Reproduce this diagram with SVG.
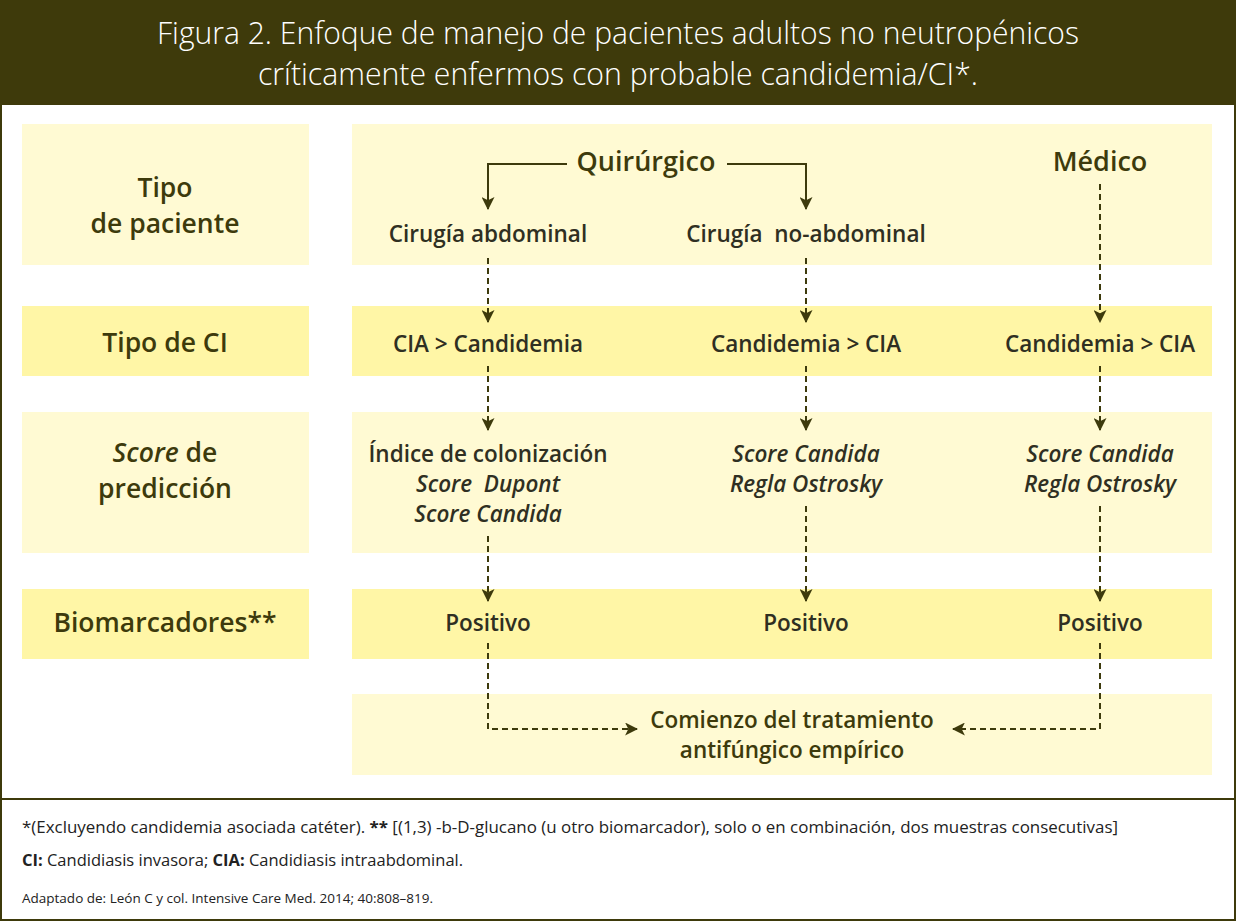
<svg xmlns="http://www.w3.org/2000/svg" width="1236" height="922" viewBox="0 0 1236 922">
<defs>
<style>
.lt{fill:#FFFAD3}
.dk{fill:#FFF6A6}
.lab{font-family:"Open Sans","Liberation Sans",sans-serif;font-weight:600;font-size:26.5px;fill:#3D3A0C;text-anchor:middle}
.big{font-family:"Open Sans","Liberation Sans",sans-serif;font-weight:600;font-size:27px;fill:#3D3A0C;text-anchor:middle}
.txt{font-family:"Open Sans","Liberation Sans",sans-serif;font-weight:600;font-size:22.5px;fill:#2F2F22;text-anchor:middle}
.olive{fill:#3D3A0C}
.it{font-style:italic}
.title{font-family:"Open Sans","Liberation Sans",sans-serif;font-weight:300;font-size:31px;fill:#FFFFFF;text-anchor:middle}
.foot{font-family:"Open Sans","Liberation Sans",sans-serif;font-size:16.5px;fill:#222}
.foots{font-family:"Open Sans","Liberation Sans",sans-serif;font-size:13.5px;fill:#222}
.sol{fill:none;stroke:#3D3A0C;stroke-width:2}
.dash{fill:none;stroke:#3D3A0C;stroke-width:2;stroke-dasharray:6 4}
</style>
<marker id="ah" viewBox="0 0 12 12" refX="11" refY="6" markerWidth="13" markerHeight="13" markerUnits="userSpaceOnUse" orient="auto">
<path d="M0,0 L12,6 L0,12 L3,6 z" fill="#3D3A0C"/>
</marker>
</defs>

<g id="header">
<rect x="0" y="0" width="1236" height="105" fill="#3E3A0B"/>
<text class="title" x="618" y="44" textLength="922" lengthAdjust="spacingAndGlyphs">Figura 2. Enfoque de manejo de pacientes adultos no neutropénicos</text>
<text class="title" x="618" y="85" textLength="720" lengthAdjust="spacingAndGlyphs">críticamente enfermos con probable candidemia/CI*.</text>
</g>
<rect id="frame" x="1" y="104" width="1234" height="816" fill="none" stroke="#3E3A0B" stroke-width="2"/>
<line x1="1" y1="799" x2="1235" y2="799" stroke="#3E3A0B" stroke-width="2"/>

<g id="row-tipo-paciente">
<rect class="lt" x="22" y="124" width="287" height="141"/>
<text class="lab" x="165" y="197">Tipo</text>
<text class="lab" x="165" y="233">de paciente</text>
</g>
<g id="row-tipo-ci">
<rect class="dk" x="22" y="306" width="287" height="70"/>
<text class="lab" x="165" y="352">Tipo de CI</text>
</g>
<g id="row-score">
<rect class="lt" x="22" y="412" width="287" height="141"/>
<text class="lab" x="165" y="462"><tspan font-style="italic">Score</tspan> de</text>
<text class="lab" x="165" y="498">predicción</text>
</g>
<g id="row-biomarcadores">
<rect class="dk" x="22" y="589" width="287" height="70"/>
<text class="lab" x="165" y="632">Biomarcadores**</text>
</g>

<g id="panel-paciente">
<rect class="lt" x="352" y="124" width="860" height="141"/>
</g>
<g id="quirurgico"><text class="big" x="646" y="171">Quirúrgico</text></g>
<g id="medico"><text class="big" x="1100" y="171">Médico</text></g>
<g id="cirugia-abdominal"><text class="txt" x="488" y="242">Cirugía abdominal</text></g>
<g id="cirugia-no-abdominal"><text class="txt" x="806" y="242" xml:space="preserve">Cirugía  no-abdominal</text></g>

<g id="panel-ci">
<rect class="dk" x="352" y="306" width="860" height="70"/>
</g>
<g id="ci-1"><text class="txt" x="488" y="352">CIA &gt; Candidemia</text></g>
<g id="ci-2"><text class="txt" x="806" y="352">Candidemia &gt; CIA</text></g>
<g id="ci-3"><text class="txt" x="1100" y="352">Candidemia &gt; CIA</text></g>

<g id="panel-score">
<rect class="lt" x="352" y="412" width="860" height="141"/>
</g>
<g id="score-1">
<text class="txt" x="488" y="462">Índice de colonización</text>
<text class="txt it" x="488" y="492" xml:space="preserve">Score  Dupont</text>
<text class="txt it" x="488" y="522">Score Candida</text>
</g>
<g id="score-2">
<text class="txt it" x="806" y="462">Score Candida</text>
<text class="txt it" x="806" y="492">Regla Ostrosky</text>
</g>
<g id="score-3">
<text class="txt it" x="1100" y="462">Score Candida</text>
<text class="txt it" x="1100" y="492">Regla Ostrosky</text>
</g>

<g id="panel-bio">
<rect class="dk" x="352" y="589" width="860" height="70"/>
</g>
<g id="pos-1"><text class="txt" x="488" y="631">Positivo</text></g>
<g id="pos-2"><text class="txt" x="806" y="631">Positivo</text></g>
<g id="pos-3"><text class="txt" x="1100" y="631">Positivo</text></g>

<g id="tratamiento">
<rect class="lt" x="352" y="694" width="860" height="81"/>
<text class="txt olive" x="792" y="728">Comienzo del tratamiento</text>
<text class="txt olive" x="792" y="758">antifúngico empírico</text>
</g>

<g id="connectors">
<path class="sol" d="M567,164 H488 V209" marker-end="url(#ah)"/>
<path class="sol" d="M727,164 H806 V209" marker-end="url(#ah)"/>
<path class="dash" d="M1100,184 V322" marker-end="url(#ah)"/>
<path class="dash" d="M488,258 V322" marker-end="url(#ah)"/>
<path class="dash" d="M806,258 V322" marker-end="url(#ah)"/>
<path class="dash" d="M488,366 V430" marker-end="url(#ah)"/>
<path class="dash" d="M806,366 V430" marker-end="url(#ah)"/>
<path class="dash" d="M1100,366 V430" marker-end="url(#ah)"/>
<path class="dash" d="M488,536 V601" marker-end="url(#ah)"/>
<path class="dash" d="M806,506 V601" marker-end="url(#ah)"/>
<path class="dash" d="M1100,506 V601" marker-end="url(#ah)"/>
<path class="dash" d="M488,643 V729 H637" marker-end="url(#ah)"/>
<path class="dash" d="M1100,643 V729 H953" marker-end="url(#ah)"/>
</g>

<g id="footer">
<text class="foot" x="22" y="833" textLength="1096" lengthAdjust="spacingAndGlyphs">*(Excluyendo candidemia asociada catéter). <tspan font-weight="700">**</tspan> [(1,3) -b-D-glucano (u otro biomarcador), solo o en combinación, dos muestras consecutivas]</text>
<text class="foot" x="22" y="866"><tspan font-weight="700">CI:</tspan> Candidiasis invasora; <tspan font-weight="700">CIA:</tspan> Candidiasis intraabdominal.</text>
<text class="foots" x="22" y="903">Adaptado de: León C y col. Intensive Care Med. 2014; 40:808–819.</text>
</g>
</svg>
